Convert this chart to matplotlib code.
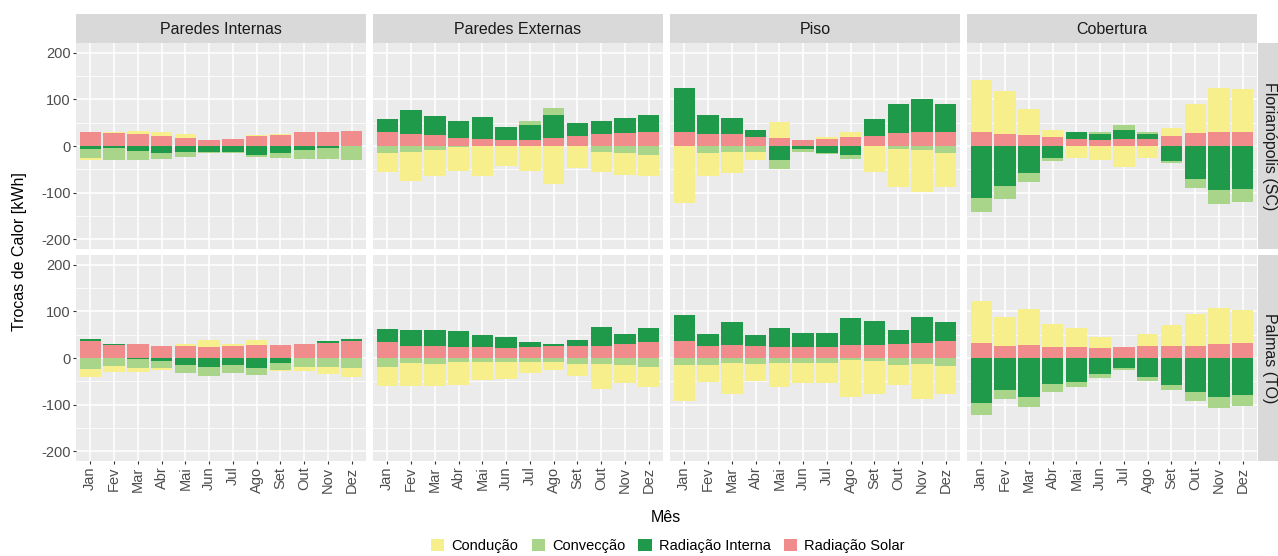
import matplotlib
matplotlib.use("Agg")
import matplotlib.pyplot as plt
from matplotlib.patches import Patch
import numpy as np

plt.rcParams["font.family"] = ["Liberation Sans", "DejaVu Sans"]

meses = ["Jan", "Fev", "Mar", "Abr", "Mai", "Jun", "Jul", "Ago", "Set", "Out", "Nov", "Dez"]
elementos = ["Paredes Internas", "Paredes Externas", "Piso", "Cobertura"]
cidades = ["Florianópolis (SC)", "Palmas (TO)"]
componentes = ["Condução", "Convecção", "Radiação Interna", "Radiação Solar"]

# Heat exchange per element (rows: Paredes Internas, Paredes Externas, Piso, Cobertura), kWh
conducao_fln = [
    [-3, 4, 6, 9, 7, 0, 0, 3, 2, 0, 0, 0],
    [-41, -63, -55, -51, -63, -42, -54, -81, -48, -43, -47, -46],
    [-123, -48, -45, -18, 34, 0, 5, 9, -56, -83, -89, -75],
    [112, 92, 55, 14, -26, -31, -44, -26, 18, 64, 96, 91],
]
conveccao_fln = [
    [-20, -26, -21, -14, -11, -1, -1, -4, -10, -19, -24, -28],
    [-15, -13, -9, -3, -1, 0, 10, 14, 0, -12, -16, -19],
    [0, -16, -13, -13, -19, -5, -4, -9, 0, -6, -9, -14],
    [-29, -28, -19, -7, 0, 5, 10, 3, -4, -19, -30, -29],
]
rad_interna_fln = [
    [-6, -5, -10, -14, -12, -13, -13, -19, -15, -9, -4, -1],
    [28, 52, 40, 36, 46, 29, 32, 49, 28, 28, 33, 38],
    [93, 40, 35, 14, -31, -7, -14, -19, 37, 63, 70, 59],
    [-112, -86, -58, -26, 13, 14, 20, 10, -32, -71, -94, -92],
]
rad_solar_fln = [
    [31, 27, 26, 21, 18, 13, 15, 21, 24, 29, 31, 33],
    [30, 25, 24, 18, 16, 12, 12, 18, 21, 26, 28, 29],
    [31, 26, 25, 20, 18, 13, 14, 20, 21, 28, 30, 31],
    [30, 25, 24, 20, 16, 12, 14, 16, 21, 27, 29, 31],
]

conducao_pmw = [
    [-16, -12, -9, -3, 5, 16, 6, 11, -2, -9, -16, -19],
    [-41, -50, -48, -50, -40, -37, -23, -17, -25, -54, -38, -43],
    [-79, -38, -66, -38, -52, -43, -43, -80, -71, -43, -74, -59],
    [90, 63, 79, 48, 40, 24, 0, 26, 45, 68, 78, 72],
]
conveccao_pmw = [
    [-24, -18, -19, -16, -19, -18, -16, -15, -14, -19, -19, -22],
    [-20, -11, -13, -9, -8, -8, -9, -9, -13, -13, -16, -19],
    [-14, -14, -11, -12, -11, -11, -11, -4, -7, -16, -13, -18],
    [-26, -19, -21, -16, -12, -9, -5, -9, -12, -19, -23, -24],
]
rad_interna_pmw = [
    [4, 2, -2, -6, -14, -20, -16, -21, -11, 0, 3, 4],
    [29, 36, 35, 35, 26, 24, 10, 3, 14, 40, 22, 30],
    [56, 26, 49, 24, 40, 31, 30, 58, 52, 31, 56, 41],
    [-96, -68, -84, -56, -51, -34, -21, -41, -57, -74, -84, -80],
]
rad_solar_pmw = [
    [37, 27, 29, 25, 25, 23, 25, 27, 27, 29, 33, 37],
    [34, 25, 26, 24, 23, 22, 24, 26, 25, 26, 30, 34],
    [36, 26, 28, 25, 24, 23, 24, 27, 27, 29, 32, 36],
    [33, 26, 27, 24, 24, 21, 24, 25, 26, 26, 29, 32],
]

cores = {
    "Condução": "#F7EF8C",
    "Convecção": "#A9D58A",
    "Radiação Interna": "#1F9A4A",
    "Radiação Solar": "#F08C8C",
}

dados = {
    cidades[0]: {"Condução": conducao_fln, "Convecção": conveccao_fln,
                 "Radiação Interna": rad_interna_fln, "Radiação Solar": rad_solar_fln},
    cidades[1]: {"Condução": conducao_pmw, "Convecção": conveccao_pmw,
                 "Radiação Interna": rad_interna_pmw, "Radiação Solar": rad_solar_pmw},
}

W, H = 1278, 556
fig = plt.figure(figsize=(W / 100, H / 100), dpi=100)


def rect(x0, y0, x1, y1):
    return [x0 / W, 1 - y1 / H, (x1 - x0) / W, (y1 - y0) / H]


col_x = [(76, 366), (373, 663), (670, 960), (967, 1257)]
row_y = [(43, 249), (255, 461)]
strip_top = 14

TICK_COLOR = "#4D4D4D"
x = np.arange(1, 13)

for c, (x0, x1) in enumerate(col_x):
    # column strip
    sax = fig.add_axes(rect(x0, strip_top, x1, row_y[0][0]))
    sax.set_facecolor("#D9D9D9")
    sax.set_xticks([]); sax.set_yticks([])
    for s in sax.spines.values():
        s.set_visible(False)
    sax.text(0.5, 0.48, elementos[c], ha="center", va="center", fontsize=11.5,
             color="#1A1A1A", transform=sax.transAxes)

for r, (y0, y1) in enumerate(row_y):
    # row strip
    rax = fig.add_axes(rect(1258, y0, 1280, y1))
    rax.set_facecolor("#D9D9D9")
    rax.set_xticks([]); rax.set_yticks([])
    for s in rax.spines.values():
        s.set_visible(False)
    rax.text(0.5, 0.5, cidades[r], ha="center", va="center", rotation=-90,
             fontsize=11.5, color="#1A1A1A", transform=rax.transAxes)

    cidade = cidades[r]
    for c, (x0, x1) in enumerate(col_x):
        ax = fig.add_axes(rect(x0, y0, x1, y1))
        ax.set_facecolor("#EBEBEB")
        for s in ax.spines.values():
            s.set_visible(False)
        ax.set_xlim(0.4, 12.6)
        ax.set_ylim(-221, 221)
        ax.set_yticks([-200, -100, 0, 100, 200])
        ax.set_yticks([-150, -50, 50, 150], minor=True)
        ax.set_xticks(x)
        ax.grid(True, which="major", color="white", linewidth=1.1)
        ax.grid(True, which="minor", axis="y", color="white", linewidth=0.55)
        ax.set_axisbelow(True)
        ax.tick_params(which="minor", length=0)
        ax.tick_params(which="major", length=2.5, width=0.8, color="#333333",
                       labelsize=10.5, labelcolor=TICK_COLOR, pad=1.5)

        pos_base = np.zeros(12)
        neg_base = np.zeros(12)
        # ggplot-style stacking: last level closest to zero
        for comp in reversed(componentes):
            v = np.array(dados[cidade][comp][c], dtype=float)
            pos = np.where(v > 0, v, 0)
            neg = np.where(v < 0, v, 0)
            ax.bar(x, pos, bottom=pos_base, width=0.9, color=cores[comp], linewidth=0)
            ax.bar(x, neg, bottom=neg_base, width=0.9, color=cores[comp], linewidth=0)
            pos_base += pos
            neg_base += neg

        if c == 0:
            ax.set_yticklabels(["-200", "-100", "0", "100", "200"])
        else:
            ax.tick_params(axis="y", which="both", left=False, labelleft=False)
        if r == 1:
            ax.set_xticklabels(meses, rotation=90)
        else:
            ax.tick_params(axis="x", which="both", bottom=False, labelbottom=False)

fig.text(20 / W, 1 - 252 / H, "Trocas de Calor [kWh]", rotation=90, ha="center",
         va="center", fontsize=11.5)
fig.text(666 / W, 1 - 517 / H, "Mês", ha="center", va="center", fontsize=11.5)

handles = [Patch(facecolor=cores[k], edgecolor="none", label=k) for k in componentes]
fig.legend(handles=handles, loc="center", bbox_to_anchor=(668 / W, 1 - 546 / H),
           ncol=4, frameon=False, fontsize=10.5, handlelength=0.9, handleheight=0.9,
           handletextpad=0.5, columnspacing=0.9, borderpad=0)

fig.savefig("out.png", dpi=100)
